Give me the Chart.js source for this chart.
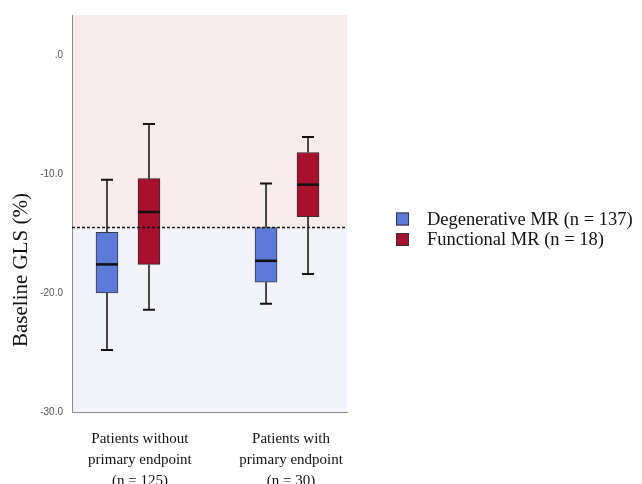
<!DOCTYPE html>
<html>
<head>
<meta charset="utf-8">
<script src="https://cdn.jsdelivr.net/npm/chart.js@4.4.0/dist/chart.umd.min.js"></script>
<style>
    html, body { margin: 0; padding: 0; background: #fff; }
</style>
</head>
<body>
<canvas id="glsChart" width="642" height="484"></canvas>
<script>
// Categories on the x axis
const categories = [
    ['Patients without', 'primary endpoint', '(n = 125)'],
    ['Patients with', 'primary endpoint', '(n = 30)']
];
const seriesLabels = ['Degenerative MR (n = 137)', 'Functional MR (n = 18)'];

// Degenerative MR box values (one per category)
const degMin = [-24.8, -20.9];
const degQ1 = [-20.0, -19.1];
const degMedian = [-17.6, -17.3];
const degQ3 = [-14.9, -14.5];
const degMax = [-10.5, -10.8];

// Functional MR box values
const funcMin = [-21.4, -18.4];
const funcQ1 = [-17.6, -13.6];
const funcMedian = [-13.2, -10.9];
const funcQ3 = [-10.4, -8.2];
const funcMax = [-5.8, -6.9];

// Axis ticks and GLS cut-off
const yTicks = [-30, -20, -10, 0];
const glsCutoff = -14.5;

// Layout of groups along the x axis
const groupPos = [1, 2];
const labelPos = [1.075, 2.025];
const seriesShift = 0.132;

const boxStats = [
    { min: degMin, q1: degQ1, median: degMedian, q3: degQ3, max: degMax },
    { min: funcMin, q1: funcQ1, median: funcMedian, q3: funcQ3, max: funcMax }
];

// Build floating bar data (Q1..Q3)
function boxData(q1, q3, shift) {
    return groupPos.map((p, i) => ({ x: p + shift, y: [q1[i], q3[i]] }));
}

// Helper: format y tick like SPSS
function formatTick(value) {
    return value === 0 ? '.0' : value.toFixed(1);
}

// Plugin: background bands, whiskers, medians, cut-off line, title, legend
const boxPlotDecor = {
    id: 'boxPlotDecor',
    beforeDraw(chart) {
        const { ctx, chartArea: a, scales: { y } } = chart;
        const cutY = y.getPixelForValue(glsCutoff);
        ctx.save();
        ctx.fillStyle = '#f8ebeb';
        ctx.fillRect(a.left, a.top, a.right - a.left, cutY - a.top);
        ctx.fillStyle = '#f2f3f9';
        ctx.fillRect(a.left, cutY, a.right - a.left, a.bottom - cutY);
        ctx.restore();
    },
    afterDatasetsDraw(chart) {
        const { ctx, scales: { y } } = chart;
        ctx.save();
        ctx.strokeStyle = '#111';
        boxStats.forEach((s, d) => {
            const meta = chart.getDatasetMeta(d);
            meta.data.forEach((bar, i) => {
                const x = bar.x;
                const half = bar.width / 2;
                // whiskers
                ctx.lineWidth = 1.5;
                ctx.beginPath();
                ctx.moveTo(x, y.getPixelForValue(s.max[i]));
                ctx.lineTo(x, y.getPixelForValue(s.q3[i]));
                ctx.moveTo(x, y.getPixelForValue(s.min[i]));
                ctx.lineTo(x, y.getPixelForValue(s.q1[i]));
                ctx.stroke();
                // caps
                ctx.lineWidth = 2;
                ctx.beginPath();
                ctx.moveTo(x - 6, y.getPixelForValue(s.max[i]));
                ctx.lineTo(x + 6, y.getPixelForValue(s.max[i]));
                ctx.moveTo(x - 6, y.getPixelForValue(s.min[i]));
                ctx.lineTo(x + 6, y.getPixelForValue(s.min[i]));
                ctx.stroke();
                // median
                ctx.lineWidth = 2.5;
                ctx.beginPath();
                ctx.moveTo(x - half, y.getPixelForValue(s.median[i]));
                ctx.lineTo(x + half, y.getPixelForValue(s.median[i]));
                ctx.stroke();
            });
        });
        ctx.restore();
    },
    afterDraw(chart) {
        const { ctx, chartArea: a, scales: { y } } = chart;
        const cutY = y.getPixelForValue(glsCutoff);
        ctx.save();

        // dashed cut-off line
        ctx.strokeStyle = '#111';
        ctx.lineWidth = 1.3;
        ctx.setLineDash([3, 2]);
        ctx.beginPath();
        ctx.moveTo(a.left, cutY);
        ctx.lineTo(a.right, cutY);
        ctx.stroke();
        ctx.setLineDash([]);

        // y axis title
        ctx.save();
        ctx.translate(21, 270);
        ctx.rotate(-Math.PI / 2);
        ctx.font = '21px "Liberation Serif"';
        ctx.fillStyle = '#111';
        ctx.textAlign = 'center';
        ctx.textBaseline = 'middle';
        ctx.fillText('Baseline GLS (%)', 0, 0);
        ctx.restore();

        // legend
        ctx.font = '18.5px "Liberation Serif"';
        ctx.textBaseline = 'middle';
        ctx.textAlign = 'left';
        chart.data.datasets.forEach((ds, i) => {
            const cy = 219 + i * 20.5;
            const bx = a.right + 49;
            ctx.fillStyle = ds.backgroundColor;
            ctx.fillRect(bx, cy - 6.5, 13, 13);
            ctx.strokeStyle = '#333';
            ctx.lineWidth = 1;
            ctx.strokeRect(bx + 0.5, cy - 6, 12, 12);
            ctx.fillStyle = '#111';
            ctx.fillText(ds.label, bx + 31, cy + 1);
        });
        ctx.restore();
    }
};

const chart = new Chart(document.getElementById('glsChart'), {
    type: 'bar',
    data: {
        datasets: [{
            label: seriesLabels[0],
            data: boxData(degQ1, degQ3, -seriesShift),
            backgroundColor: '#5c7ad8',
            borderColor: '#3a3a44',
            borderWidth: 1,
            borderSkipped: false,
            barThickness: 22,
            grouped: false
        }, {
            label: seriesLabels[1],
            data: boxData(funcQ1, funcQ3, seriesShift),
            backgroundColor: '#a7112e',
            borderColor: '#3a2a2a',
            borderWidth: 1,
            borderSkipped: false,
            barThickness: 22,
            grouped: false
        }]
    },
    options: {
        responsive: false,
        animation: false,
        layout: {
            padding: { top: 12, right: 295, left: 0, bottom: 0 }
        },
        plugins: {
            legend: { display: false },
            tooltip: { enabled: false }
        },
        scales: {
            x: {
                type: 'linear',
                min: 0.648,
                max: 2.377,
                offset: false,
                grid: { display: false },
                border: { color: '#8c8c8c', width: 1 },
                afterBuildTicks: (scale) => {
                    scale.ticks = labelPos.map(v => ({ value: v }));
                },
                afterFit: (scale) => { scale.height = 72; },
                ticks: {
                    autoSkip: false,
                    maxRotation: 0,
                    padding: 9,
                    color: '#111',
                    font: { family: 'Liberation Serif', size: 15, lineHeight: 1.4 },
                    callback: (value, index) => categories[index]
                }
            },
            y: {
                min: -30,
                max: 3.35,
                grid: { display: false, drawTicks: false },
                border: { color: '#8c8c8c', width: 1 },
                afterBuildTicks: (scale) => {
                    scale.ticks = yTicks.map(v => ({ value: v }));
                },
                afterFit: (scale) => { scale.width = 72; },
                ticks: {
                    padding: 9,
                    color: '#555',
                    font: { family: 'Liberation Sans', size: 10 },
                    callback: (value) => formatTick(value)
                }
            }
        }
    },
    plugins: [boxPlotDecor]
});
</script>
</body>
</html>
